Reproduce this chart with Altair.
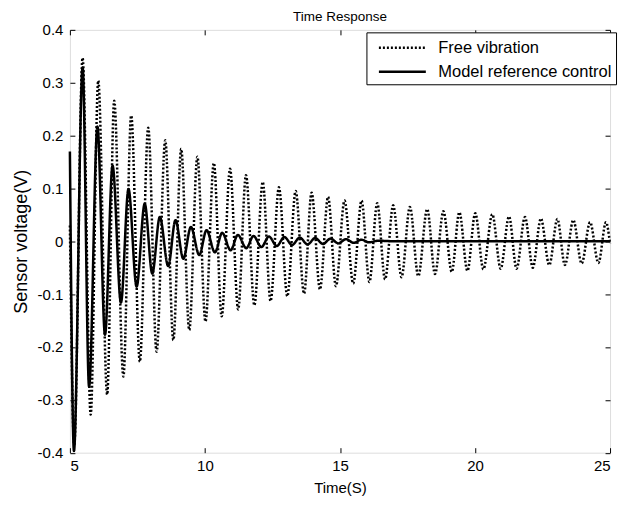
import altair as alt
import pandas as pd

# Free vibration: extrema (time s, voltage V)
fv_t = [5.00, 5.16, 5.47, 5.77, 6.05, 6.38, 6.64, 6.98, 7.27, 7.59, 7.90, 8.21,
        8.53, 8.83, 9.12, 9.42, 9.72, 10.02, 10.33, 10.62, 10.93, 11.23, 11.52,
        11.83, 12.14, 12.43, 12.74, 13.05, 13.36, 13.67, 13.95, 14.26, 14.56,
        14.85, 15.17, 15.49, 15.80, 16.09, 16.38, 16.67, 16.97, 17.28, 17.59,
        17.90, 18.23, 18.52, 18.83, 19.14, 19.42, 19.72, 20.01, 20.31, 20.64,
        20.95, 21.26, 21.54, 21.85, 22.14, 22.44, 22.75, 23.05, 23.33, 23.64,
        23.95, 24.26, 24.57, 24.85, 25.00]
fv_v = [0.03, -0.385, 0.347, -0.328, 0.304, -0.290, 0.266, -0.256, 0.238, -0.228,
        0.215, -0.209, 0.191, -0.187, 0.175, -0.168, 0.160, -0.152, 0.148, -0.142,
        0.137, -0.129, 0.125, -0.121, 0.112, -0.113, 0.102, -0.104, 0.095, -0.099,
        0.092, -0.091, 0.084, -0.085, 0.077, -0.080, 0.077, -0.077, 0.072, -0.072,
        0.068, -0.068, 0.065, -0.066, 0.061, -0.062, 0.057, -0.058, 0.055, -0.056,
        0.053, -0.053, 0.051, -0.052, 0.047, -0.052, 0.046, -0.050, 0.043, -0.045,
        0.042, -0.045, 0.040, -0.042, 0.036, -0.041, 0.036, -0.005]

# Model reference control: extrema
mr_t = [5.00, 5.15, 5.47, 5.71, 6.02, 6.30, 6.58, 6.89, 7.17, 7.47, 7.77, 8.05,
        8.33, 8.64, 8.91, 9.20, 9.48, 9.79, 10.06, 10.37, 10.64, 10.95, 11.22,
        11.53, 11.80, 12.09, 12.37, 12.66, 12.94, 13.23, 13.51, 13.80, 14.08,
        14.37, 14.65, 14.94, 15.22, 15.51, 15.79, 16.08, 16.40, 17.00, 25.00]
mr_v = [0.170, -0.397, 0.329, -0.275, 0.217, -0.177, 0.143, -0.116, 0.099, -0.086,
        0.071, -0.061, 0.046, -0.047, 0.040, -0.033, 0.027, -0.026, 0.021, -0.021,
        0.016, -0.017, 0.012, -0.013, 0.010, -0.011, 0.009, -0.009, 0.008, -0.007,
        0.007, -0.006, 0.006, -0.005, 0.005, -0.004, 0.004, -0.003, 0.003, -0.002,
        0.001, 0.000, 0.000]

series_names = ["Free vibration", "Model reference control"]
x_ticks = [5, 10, 15, 20, 25]
y_ticks = [-0.4, -0.3, -0.2, -0.1, 0.0, 0.1, 0.2, 0.3, 0.4]

df = pd.concat([
    pd.DataFrame({"t": fv_t, "v": fv_v, "series": series_names[0]}),
    pd.DataFrame({"t": mr_t, "v": mr_v, "series": series_names[1]}),
], ignore_index=True)

FONT = "Liberation Sans"
ylab = "replace(datum.value == 0 ? '0' : format(datum.value, '.1f'), '\u2212', '-')"

xscale = alt.Scale(domain=[5, 25], nice=False, zero=False)
yscale = alt.Scale(domain=[-0.4, 0.4], nice=False, zero=False)

main = alt.Chart(df).mark_line(interpolate="monotone", color="black", strokeWidth=2.5).encode(
    x=alt.X("t:Q", scale=xscale, title="Time(S)",
            axis=alt.Axis(orient="bottom", values=x_ticks, offset=-5, tickSize=5,
                          domain=False, grid=False, labelPadding=6, titlePadding=7,
                          labelFontSize=15, titleFontSize=15, labelFont=FONT,
                          titleFont=FONT, titleFontWeight="normal",
                          labelColor="black", titleColor="black", tickColor="black")),
    y=alt.Y("v:Q", scale=yscale, title="Sensor voltage(V)",
            axis=alt.Axis(orient="left", values=y_ticks, offset=-5, tickSize=5,
                          domain=False, grid=False, labelPadding=7, titlePadding=7,
                          labelExpr=ylab,
                          labelFontSize=15, titleFontSize=18, labelFont=FONT,
                          titleFont=FONT, titleFontWeight="normal",
                          labelColor="black", titleColor="black", tickColor="black")),
    strokeDash=alt.StrokeDash(
        "series:N",
        scale=alt.Scale(domain=series_names, range=[[2, 2], [1, 0]]),
        legend=alt.Legend(orient="none", legendX=297, legendY=2.5, title=None,
                          symbolType="M-0.3,0H4.4", symbolSize=400, symbolStrokeWidth=2.5,
                          symbolStrokeColor="black", strokeColor="black",
                          fillColor="white", padding=4, rowPadding=4, labelOffset=45,
                          labelFontSize=16.5, labelFont=FONT, labelColor="black",
                          labelLimit=400)),
)

frame = alt.Chart(df).mark_line(strokeOpacity=0).encode(
    x=alt.X("t:Q", scale=xscale, title=None,
            axis=alt.Axis(orient="top", values=x_ticks, offset=-5, tickSize=5,
                          domain=False, grid=False, labels=False, tickColor="black")),
    y=alt.Y("v:Q", scale=yscale, title=None,
            axis=alt.Axis(orient="right", values=y_ticks, offset=-5, tickSize=5,
                          domain=False, grid=False, labels=False, tickColor="black")),
)

chart = alt.layer(main, frame).resolve_axis(x="independent", y="independent").properties(
    width=541, height=423.5,
    autosize=alt.AutoSizeParams(type="none"),
    padding={"left": 62, "top": 21.5, "right": 20, "bottom": 45},
    title=alt.TitleParams("Time Response", fontSize=13.5, font=FONT, fontWeight="normal",
                          color="black", offset=13, dy=14, anchor="middle", frame="group"),
).configure_view(stroke="black", strokeWidth=1.2).configure(background="white")

chart.save("out.html", embed_options={"renderer": "svg", "actions": False})
